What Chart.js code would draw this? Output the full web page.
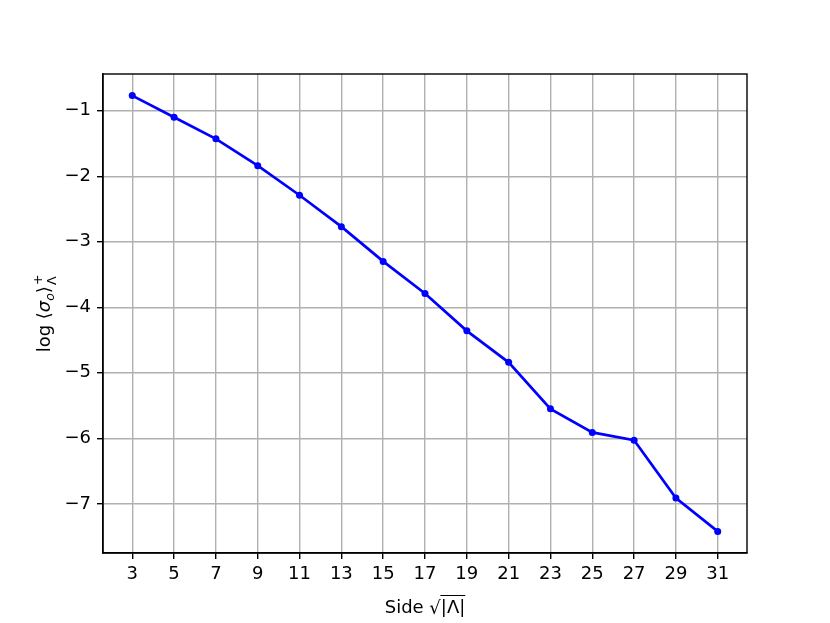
<!DOCTYPE html>
<html>
<head>
<meta charset="utf-8">
<script src="https://cdn.jsdelivr.net/npm/chart.js@4.4.0/dist/chart.umd.min.js"></script>
<style>
  html, body { margin: 0; padding: 0; background: #fff; }
  #wrap { width: 830px; height: 623px; }
</style>
</head>
<body>
<div id="wrap"><canvas id="chart"></canvas></div>
<script>
// values
const sides = [3, 5, 7, 9, 11, 13, 15, 17, 19, 21, 23, 25, 27, 29, 31];
const logSigma = [-0.77, -1.10, -1.43, -1.84, -2.29, -2.77, -3.30, -3.79, -4.36, -4.84, -5.55, -5.91, -6.03, -6.91, -7.42];
const xTicks = [3, 5, 7, 9, 11, 13, 15, 17, 19, 21, 23, 25, 27, 29, 31];
const yTicks = [-1, -2, -3, -4, -5, -6, -7];

const FONT = 'DejaVu Sans';

const points = sides.map((s, i) => ({ x: s, y: logSigma[i] }));

// box around the axes + the two math-ish axis labels
const extras = {
  id: 'extras',
  afterDraw(chart) {
    const ctx = chart.ctx;
    const a = chart.chartArea;
    ctx.save();
    ctx.strokeStyle = '#000';
    ctx.lineWidth = 1.4;
    ctx.strokeRect(a.left, a.top, a.right - a.left, a.bottom - a.top);
    ctx.restore();

    // y label: log <sigma_o>^+_Lambda, rotated
    ctx.save();
    ctx.translate(50, (a.top + a.bottom) / 2);
    ctx.rotate(-Math.PI / 2);
    ctx.fillStyle = '#000';
    ctx.textBaseline = 'alphabetic';
    const parts = [
      { t: 'log ', f: `18px ${FONT}`, dy: 0 },
      { t: '\u27E8', f: `18px ${FONT}`, dy: 0 },
      { t: '\u03C3', f: `italic 18px ${FONT}`, dy: 0 },
      { t: 'o', f: `italic 12.5px ${FONT}`, dy: 3.5 },
      { t: '\u27E9', f: `18px ${FONT}`, dy: 0 }
    ];
    let w = 0;
    parts.forEach(p => { ctx.font = p.f; p.w = ctx.measureText(p.t).width; w += p.w; });
    ctx.font = `12.5px ${FONT}`;
    const scriptW = Math.max(ctx.measureText('+').width, ctx.measureText('\u039B').width);
    let x = -(w + scriptW + 1) / 2;
    parts.forEach(p => { ctx.font = p.f; ctx.fillText(p.t, x, p.dy); x += p.w; });
    ctx.font = `12.5px ${FONT}`;
    ctx.fillText('+', x + 1, -8);
    ctx.fillText('\u039B', x + 1, 6);
    ctx.restore();

    // x label: Side sqrt(|Lambda|)
    ctx.save();
    ctx.fillStyle = '#000';
    ctx.strokeStyle = '#000';
    ctx.textBaseline = 'alphabetic';
    const base = 613;
    ctx.font = `18px ${FONT}`;
    const w1 = ctx.measureText('Side ').width;
    const w2 = ctx.measureText('\u221A').width;
    const w3 = ctx.measureText('|\u039B|').width;
    let sx = (a.left + a.right) / 2 - (w1 + w2 + w3) / 2;
    ctx.fillText('Side ', sx, base);
    sx += w1;
    ctx.fillText('\u221A', sx, base + 1);
    sx += w2;
    ctx.fillText('|\u039B|', sx, base);
    ctx.lineWidth = 1;
    ctx.beginPath();
    ctx.moveTo(sx - 0.5, base - 17.5);
    ctx.lineTo(sx + w3, base - 17.5);
    ctx.stroke();
    ctx.restore();
  }
};

new Chart(document.getElementById('chart'), {
  type: 'line',
  data: {
    datasets: [{
      data: points,
      borderColor: '#0000ff',
      backgroundColor: '#0000ff',
      borderWidth: 2.7,
      pointRadius: 3.5,
      pointBorderWidth: 0,
      pointBackgroundColor: '#0000ff',
      tension: 0,
      fill: false
    }]
  },
  options: {
    responsive: true,
    maintainAspectRatio: false,
    animation: false,
    layout: { padding: { top: 74, right: 83, left: 0, bottom: 0 } },
    plugins: { legend: { display: false }, tooltip: { enabled: false } },
    scales: {
      x: {
        type: 'linear',
        min: 1.6,
        max: 32.4,
        afterBuildTicks: axis => { axis.ticks = xTicks.map(v => ({ value: v })); },
        afterFit: scale => { scale.height = 70; },
        grid: { color: '#b0b0b0', lineWidth: 1.4, tickLength: 6, tickColor: '#000', tickWidth: 1.4 },
        border: { display: true, color: '#000', width: 1.4 },
        ticks: { color: '#000', font: { family: FONT, size: 18 }, padding: 5, maxRotation: 0, autoSkip: false }
      },
      y: {
        type: 'linear',
        min: -7.75,
        max: -0.44,
        afterBuildTicks: axis => { axis.ticks = yTicks.map(v => ({ value: v })); },
        afterFit: scale => { scale.width = 103; },
        grid: { color: '#b0b0b0', lineWidth: 1.4, tickLength: 6, tickColor: '#000', tickWidth: 1.4 },
        border: { display: true, color: '#000', width: 1.4 },
        ticks: {
          color: '#000', font: { family: FONT, size: 18 }, padding: 6, autoSkip: false,
          callback: v => '\u2212' + Math.abs(v)
        }
      }
    }
  },
  plugins: [extras]
});
</script>
</body>
</html>
